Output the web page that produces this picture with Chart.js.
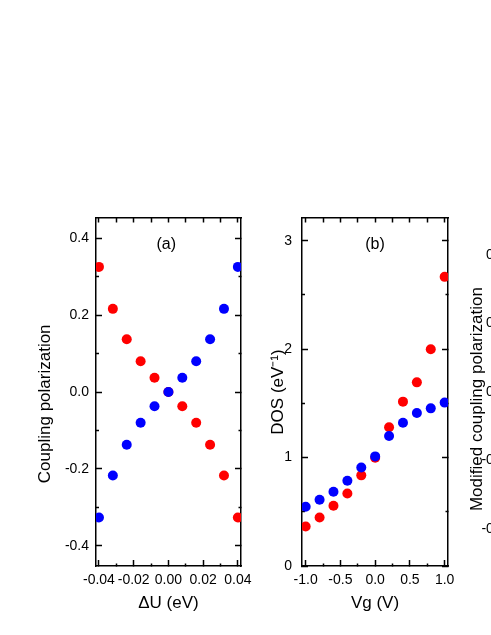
<!DOCTYPE html>
<html><head><meta charset="utf-8">
<script src="https://cdn.jsdelivr.net/npm/chart.js@4.4.1/dist/chart.umd.min.js"></script>
<style>
html,body{margin:0;padding:0;background:#fff;overflow:hidden;width:491px;height:635px;position:relative;}
canvas{position:absolute;left:0;top:0;}
</style></head><body>
<canvas id="ca" width="491" height="635"></canvas>
<canvas id="cb" width="491" height="635"></canvas>
<canvas id="cc" width="800" height="635"></canvas>
<script>
// ---------- Panel (a) data ----------
const duValues   = [-0.04, -0.032, -0.024, -0.016, -0.008, 0, 0.008, 0.016, 0.024, 0.032, 0.04];
const polRed     = [0.325, 0.216, 0.137, 0.080, 0.037, 0, -0.037, -0.080, -0.137, -0.217, -0.326];
const polBlue    = [-0.326, -0.217, -0.137, -0.080, -0.037, 0, 0.037, 0.080, 0.137, 0.216, 0.325];
const aXTicks    = [-0.04, -0.02, 0, 0.02, 0.04];
const aXLabels   = ['-0.04', '-0.02', '0.00', '0.02', '0.04'];
const aYTicks    = [-0.4, -0.2, 0, 0.2, 0.4];
const aYLabels   = ['-0.4', '-0.2', '0.0', '0.2', '0.4'];

// ---------- Panel (b) data ----------
const vgValues   = [-1.0, -0.8, -0.6, -0.4, -0.2, 0.0, 0.2, 0.4, 0.6, 0.8, 1.0];
const dosRed     = [0.365, 0.448, 0.556, 0.669, 0.836, 0.999, 1.280, 1.516, 1.694, 2.000, 2.667];
const dosBlue    = [0.546, 0.611, 0.685, 0.787, 0.909, 1.011, 1.199, 1.322, 1.411, 1.454, 1.507];
const bXTicks    = [-1, -0.5, 0, 0.5, 1];
const bXLabels   = ['-1.0', '-0.5', '0.0', '0.5', '1.0'];
const bYTicks    = [0, 1, 2, 3];
const bYLabels   = ['0', '1', '2', '3'];

// ---------- Panel (c) (cut off at the right edge) ----------
const cYTicks    = [-0.4, -0.2, 0, 0.2, 0.4];
const cYLabels   = ['-0.4', '-0.2', '0.0', '0.2', '0.4'];

const RED = 'rgb(255,0,0)', BLUE = 'rgb(0,0,255)';
const FONT = "'Liberation Sans', Arial, Helvetica, sans-serif";
const MAJ = 6, MIN = 3, TOPLEN = 4.5, LW = 1.5;
const NB = '\u00a0';

Chart.defaults.font.family = FONT;
Chart.defaults.color = '#000';

function tickList(step, min, max) {
  const out = [];
  const k0 = Math.ceil(min / step - 1e-9), k1 = Math.floor(max / step + 1e-9);
  for (let k = k0; k <= k1; k++) out.push(Math.round(k * step * 1e6) / 1e6);
  return out;
}
function majorIndex(major, v) { return major.findIndex(m => Math.abs(m - v) < 1e-7); }

function axis(o) {
  const horiz = o.position === 'top' || o.position === 'bottom';
  const list = tickList(o.step, o.min, o.max);
  const startsInside = o.position === 'left' || o.position === 'top';
  return {
    type: 'linear', position: o.position, min: o.min, max: o.max,
    axis: horiz ? 'x' : 'y',
    afterBuildTicks: s => { s.ticks = list.map(v => ({value: v})); },
    afterFit: s => { if (horiz) s.height = o.size; else s.width = o.size; },
    ticks: {
      display: !!o.labels,
      autoSkip: false, maxRotation: 0, minRotation: 0,
      padding: o.tickPad || 0,
      font: {size: 14, family: FONT}, color: '#000',
      callback: v => { const i = majorIndex(o.major, v); return (i >= 0 && o.labels) ? o.labels[i] : ''; }
    },
    grid: {
      display: true, drawOnChartArea: false, drawTicks: true,
      tickLength: -(o.uniform ? TOPLEN : MAJ),
      tickWidth: LW, tickColor: '#000',
      tickBorderDash: ctx => {
        if (o.uniform || !ctx.tick) return [];
        if (majorIndex(o.major, ctx.tick.value) >= 0) return [];
        return startsInside ? [0, MAJ - MIN, MIN, 100] : [MIN, 100];
      }
    },
    border: {display: true, color: '#000', width: LW},
    title: o.title ? {display: true, text: o.title, color: '#000',
      font: {size: o.titleSize || 17, family: FONT}, padding: o.titlePad} : {display: false}
  };
}

function pts(xs, ys) { return xs.map((x, i) => ({x: x, y: ys[i]})); }

function makeChart(id, cfg) {
  return new Chart(document.getElementById(id), {
    type: 'scatter',
    data: {datasets: cfg.datasets},
    options: {
      responsive: false, animation: false, events: [],
      layout: {padding: cfg.padding},
      plugins: {legend: {display: false}, tooltip: {enabled: false}},
      elements: {point: {radius: 5, borderWidth: 0, hoverRadius: 5}},
      scales: cfg.scales
    }
  });
}

// Panel (a)
const aX = {min: -0.0417, max: 0.0418, major: aXTicks, step: 0.01};
const aY = {min: -0.452, max: 0.452, major: aYTicks, step: 0.1};
makeChart('ca', {
  padding: {left: 0, top: 218, right: 250, bottom: 0},
  datasets: [
    {data: pts(duValues, polBlue), backgroundColor: BLUE, borderColor: BLUE},
    {data: pts(duValues, polRed), backgroundColor: RED, borderColor: RED}
  ],
  scales: {
    x: axis(Object.assign({}, aX, {position: 'bottom', size: 69, labels: aXLabels, tickPad: 11.75,
         title: '\u0394U (eV)', titlePad: {top: 0, bottom: 21.8}})),
    x2: axis(Object.assign({}, aX, {position: 'top', size: 0, uniform: true,
         title: '(a)' + NB, titleSize: 16, titlePad: {top: 16.5, bottom: 0}})),
    y: axis(Object.assign({}, aY, {position: 'left', size: 96, labels: aYLabels, tickPad: 13,
         title: 'Coupling polarization' + NB.repeat(5), titlePad: {top: 35, bottom: 0}})),
    y2: axis(Object.assign({}, aY, {position: 'right', size: 0}))
  }
});

// Panel (b)
const bX = {min: -1.053, max: 1.048, major: bXTicks, step: 0.25};
const bY = {min: 0, max: 3.21, major: bYTicks, step: 0.5};
makeChart('cb', {
  padding: {left: 240, top: 218, right: 43, bottom: 0},
  datasets: [
    {data: pts(vgValues, dosBlue), backgroundColor: BLUE, borderColor: BLUE},
    {data: pts(vgValues, dosRed), backgroundColor: RED, borderColor: RED}
  ],
  scales: {
    x: axis(Object.assign({}, bX, {position: 'bottom', size: 69, labels: bXLabels, tickPad: 11.75,
         title: 'Vg (V)', titlePad: {top: 0, bottom: 21.8}})),
    x2: axis(Object.assign({}, bX, {position: 'top', size: 0, uniform: true,
         title: '(b)', titleSize: 16, titlePad: {top: 16.5, bottom: 0}})),
    y: axis(Object.assign({}, bY, {position: 'left', size: 62, labels: bYLabels, tickPad: 16,
         title: 'DOS (eV\u207B\u00B9)', titlePad: {top: 28.5, bottom: 0}})),
    y2: axis(Object.assign({}, bY, {position: 'right', size: 0}))
  }
});

// Panel (c), only its left axis is inside the window
const cX = {min: -1.053, max: 1.048, major: bXTicks, step: 0.25};
const cY = {min: -0.508, max: 0.508, major: cYTicks, step: 0.1};
makeChart('cc', {
  padding: {left: 440, top: 218, right: 140, bottom: 0},
  datasets: [],
  scales: {
    x: axis(Object.assign({}, cX, {position: 'bottom', size: 69})),
    x2: axis(Object.assign({}, cX, {position: 'top', size: 0, uniform: true})),
    y: axis(Object.assign({}, cY, {position: 'left', size: 72.5, labels: cYLabels, tickPad: 13,
         title: 'Modified coupling polarization' + NB.repeat(3), titlePad: {top: 26.8, bottom: 0}})),
    y2: axis(Object.assign({}, cY, {position: 'right', size: 0}))
  }
});
</script>
</body></html>
